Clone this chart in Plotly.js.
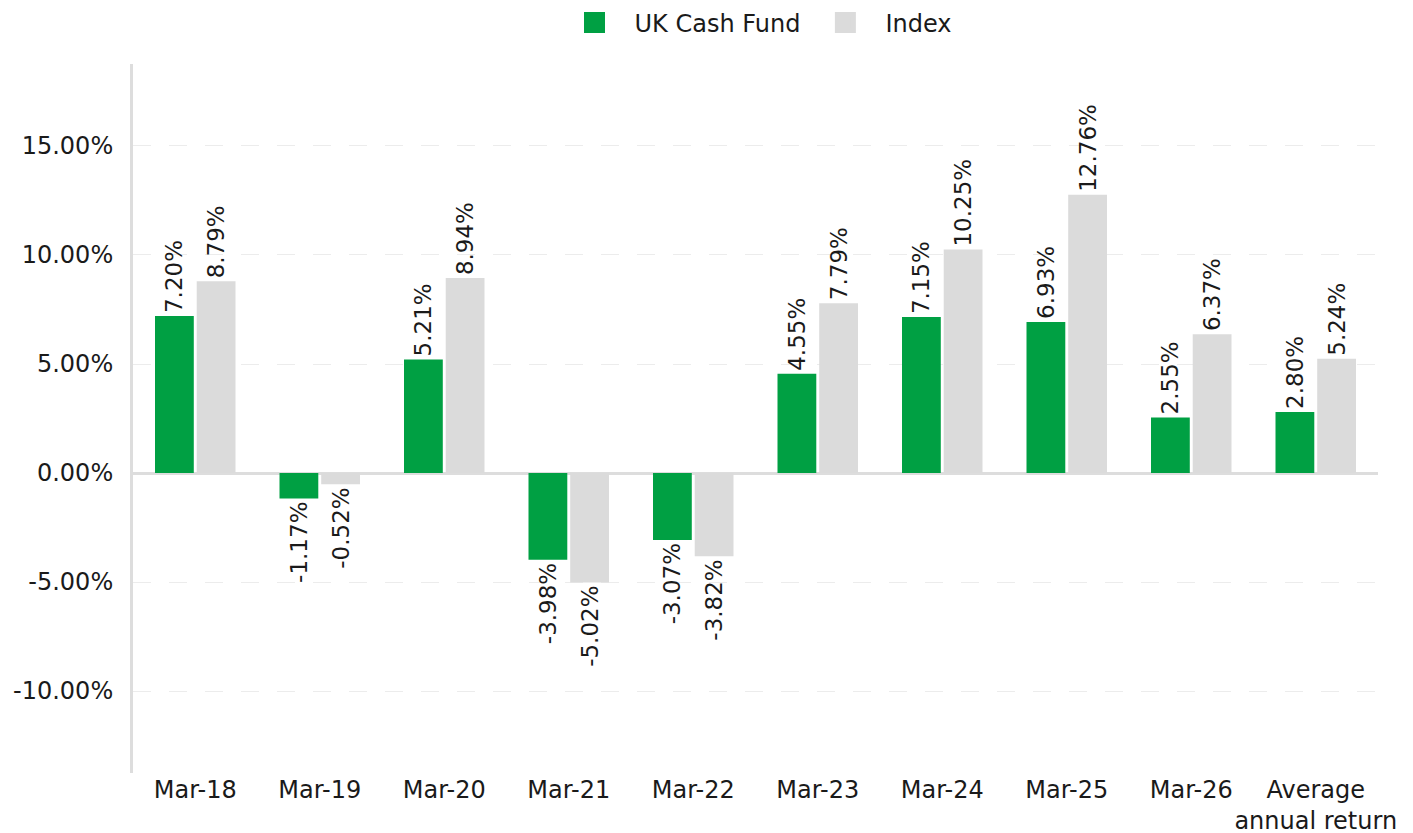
<!DOCTYPE html>
<html>
<head>
<meta charset="utf-8">
<script src="https://cdn.plot.ly/plotly-3.0.1.min.js"></script>
<style>
html,body{margin:0;padding:0;background:#fff;}
#chart{width:1413px;height:833px;}
</style>
</head>
<body>
<div id="chart"></div>
<script>
const categories = ["Mar-18","Mar-19","Mar-20","Mar-21","Mar-22","Mar-23","Mar-24","Mar-25","Mar-26","Average<br>annual return"];
const fundName = "UK Cash Fund";
const indexName = "Index";
const fundValues = [7.20,-1.17,5.21,-3.98,-3.07,4.55,7.15,6.93,2.55,2.80];
const indexValues = [8.79,-0.52,8.94,-5.02,-3.82,7.79,10.25,12.76,6.37,5.24];
const yTicks = [-10,-5,0,5,10,15];
const yTickText = ["-10.00%","-5.00%","0.00%","5.00%","10.00%","15.00%"];

const green = "#00a043";
const grey = "#dbdbdb";
const font = "DejaVu Sans, Verdana, sans-serif";

function barTrace(name, vals, color){
  return {
    type:"bar", name:name, x:categories, y:vals,
    marker:{color:color},
    texttemplate:"%{y:.2f}%", textposition:"outside", textangle:-90,
    constraintext:"none", cliponaxis:false,
    textfont:{family:font,size:23,color:"#1a1a1a"},
    showlegend:false, hoverinfo:"skip"
  };
}
function legendTrace(name,color){
  return {
    type:"scatter", mode:"markers", name:name, x:[null], y:[null],
    marker:{symbol:"square", size:16, color:color, line:{color:color,width:5}},
    showlegend:true, hoverinfo:"skip"
  };
}

const data = [
  barTrace(fundName, fundValues, green),
  barTrace(indexName, indexValues, grey),
  legendTrace(fundName, green),
  legendTrace(indexName, grey)
];

const layout = {
  width:1413, height:833,
  margin:{l:133,r:35,t:64,b:60,autoexpand:false},
  paper_bgcolor:"#fff", plot_bgcolor:"#fff",
  font:{family:font,size:24,color:"#1a1a1a"},
  barmode:"group", bargap:0.33, bargroupgap:0.07,
  showlegend:true,
  legend:{orientation:"h", x:0.5, xanchor:"center", y:1.058, yanchor:"middle",
          font:{family:font,size:24,color:"#1a1a1a"}, itemwidth:70, traceorder:"normal"},
  xaxis:{type:"category", showgrid:false, showline:false, zeroline:false, ticks:"",
         tickangle:0, automargin:false,
         tickfont:{family:font,size:24,color:"#1a1a1a"}, ticklabelstandoff:0, fixedrange:true},
  yaxis:{range:[-13.76,18.76], tickmode:"array", tickvals:yTicks, ticktext:yTickText,
         showgrid:true, gridcolor:"#ececec", gridwidth:1, griddash:"18px,18px",
         zeroline:true, zerolinecolor:"#dddddd", zerolinewidth:3,
         showline:true, linecolor:"#dddddd", linewidth:3, ticks:"", automargin:false,
         ticklabelstandoff:12,
         tickfont:{family:font,size:24,color:"#1a1a1a"}, fixedrange:true}
};

Plotly.newPlot("chart", data, layout, {displayModeBar:false, staticPlot:true});
</script>
</body>
</html>
